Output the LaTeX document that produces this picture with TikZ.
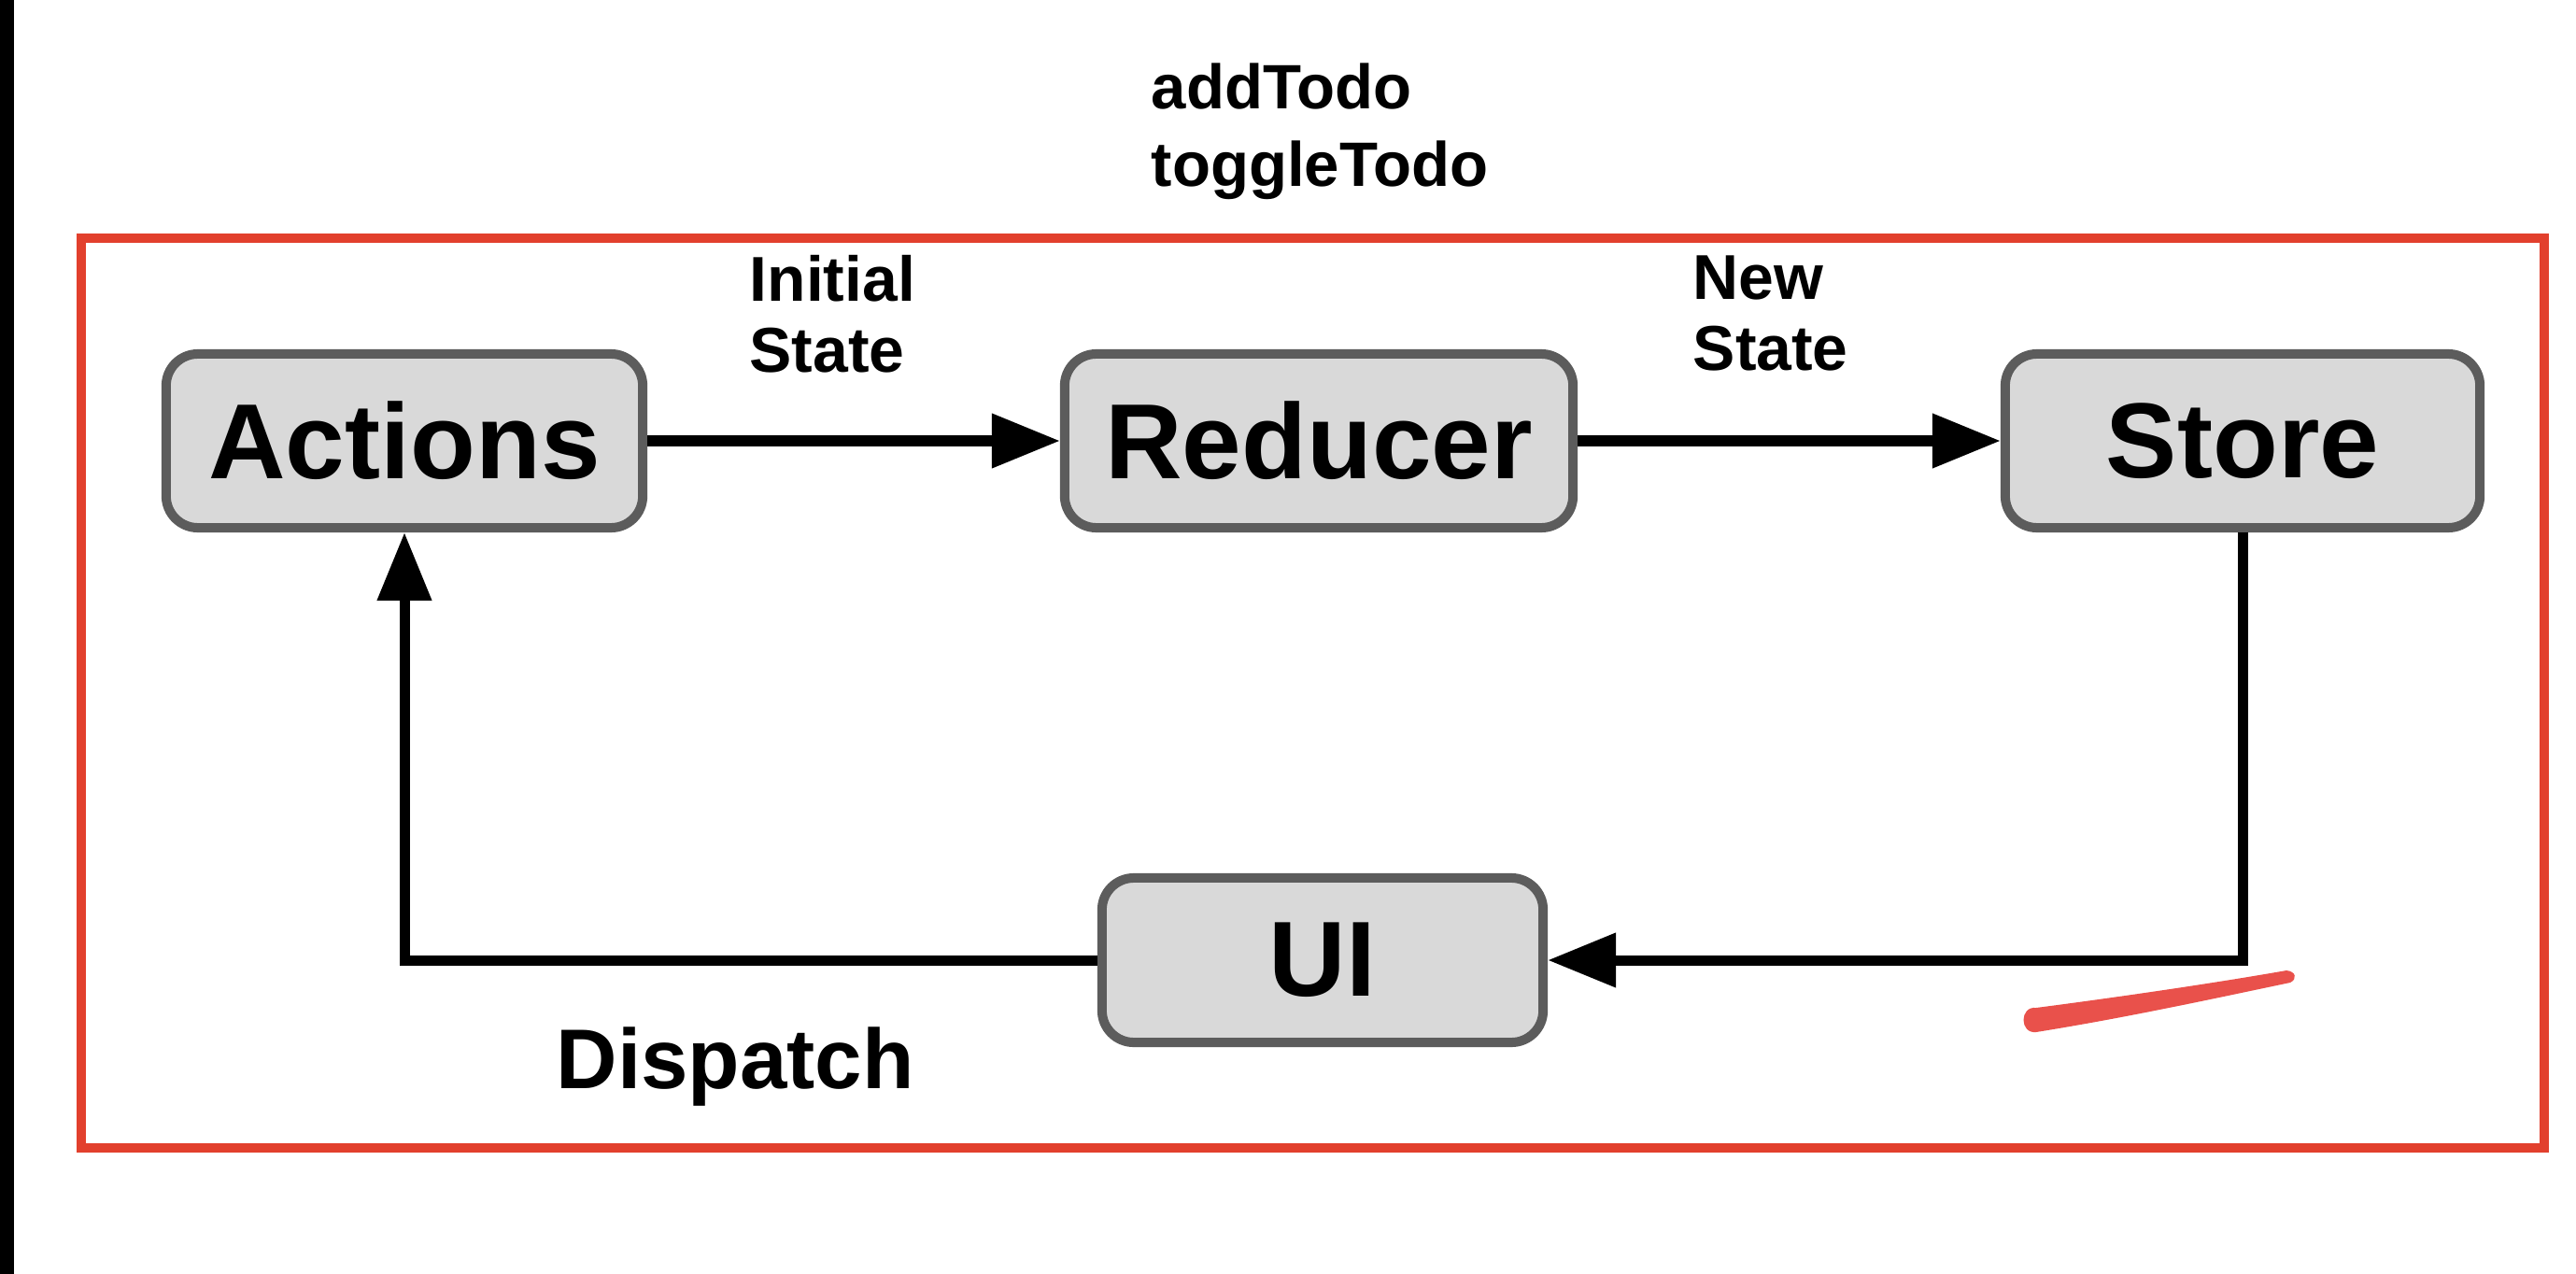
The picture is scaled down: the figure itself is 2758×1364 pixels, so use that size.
\documentclass[tikz,border=0pt]{standalone}
\usepackage{fontspec}
\setmainfont{Liberation Sans}
\usetikzlibrary{arrows.meta}

\definecolor{framered}{HTML}{E2402D}
\definecolor{markred}{HTML}{E9514B}
\definecolor{boxfill}{HTML}{D9D9D9}
\definecolor{boxline}{HTML}{5C5C5C}

\tikzset{
  stagebox/.style={draw=boxline, fill=boxfill, line width=0.1cm,
    rounded corners=0.34cm, inner sep=0pt,
    font=\fontsize{32.5pt}{36pt}\selectfont\bfseries},
  flow/.style={line width=0.11cm, draw=black,
    -{Triangle[length=0.73cm, width=0.56cm]}},
  smalllabel/.style={inner sep=0pt, align=left, anchor=north west,
    font=\fontsize{19.3pt}{21.6pt}\selectfont\bfseries},
}

\begin{document}
\begin{tikzpicture}[x=0.01cm, y=-0.01cm]
  % page area and background
  \fill[white] (0,0) rectangle (2758,1364);
  \useasboundingbox (0,0) rectangle (2758,1364);
  \fill[black] (0,0) rectangle (15,1364);

  % outer frame
  \draw[framered, line width=0.1cm] (87,255) rectangle (2724,1229);

  % stages of the data flow
  \node[stagebox, minimum width=5.1cm, minimum height=1.86cm] (actions) at (433,472) {Actions};
  \node[stagebox, minimum width=5.44cm, minimum height=1.86cm] (reducer) at (1412,472) {Reducer};
  \node[stagebox, minimum width=5.08cm, minimum height=1.86cm] (store) at (2401,472) {Store};
  \node[stagebox, minimum width=4.72cm, minimum height=1.76cm] (ui) at (1416,1028) {UI};

  % connectors
  \draw[flow] (actions.east) -- (reducer.west);
  \draw[flow] (reducer.east) -- (store.west);
  \draw[flow] (store.south) |- (ui.east);
  \draw[flow] (ui.west) -| (actions.south);

  % labels
  \node[smalllabel, font=\fontsize{19.1pt}{23.6pt}\selectfont\bfseries] (acts) at (1232,67) {addTodo\\toggleTodo};
  \node[smalllabel] (initial) at (802,273) {Initial\\State};
  \node[smalllabel] (newstate) at (1812,273) {New\\State};
  \node[inner sep=0pt, anchor=base west, font=\fontsize{25.8pt}{28pt}\selectfont\bfseries] (dispatch) at (595,1165) {Dispatch};

  % hand-drawn red underline stroke, thick at its left end and tapering off
  \fill[markred] (2180,1079) .. controls (2280,1066) and (2380,1051) .. (2448,1039)
    .. controls (2458,1040) and (2460,1048) .. (2452,1052)
    .. controls (2380,1067) and (2280,1089) .. (2180,1105)
    .. controls (2162,1107) and (2162,1077) .. (2180,1079) -- cycle;
\end{tikzpicture}
\end{document}
